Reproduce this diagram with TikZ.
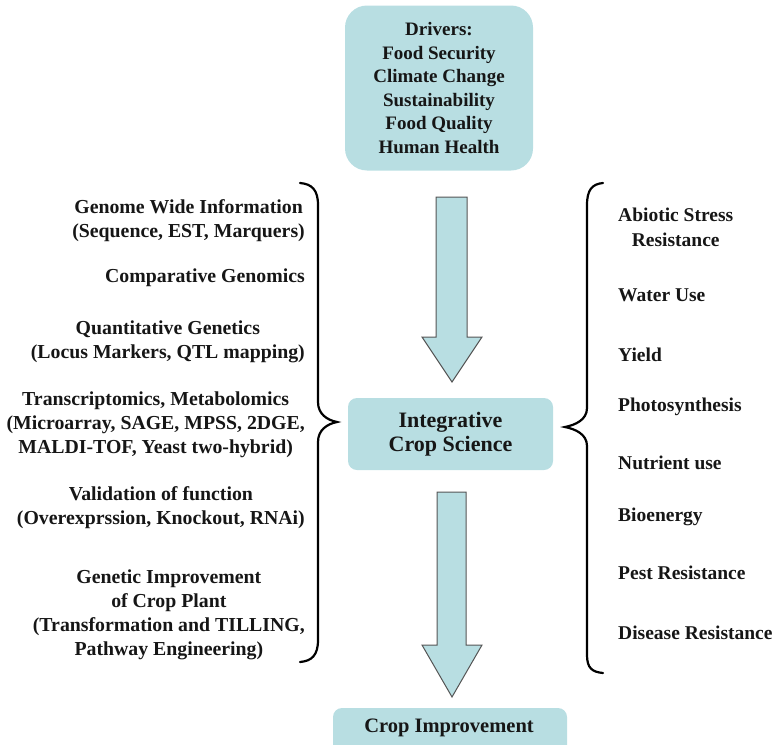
\documentclass[tikz,border=0pt]{standalone}
\usepackage{fontspec}
\setmainfont{Liberation Serif}
\definecolor{boxfill}{RGB}{184,222,226}
\definecolor{txt}{RGB}{22,22,22}
\definecolor{edge}{RGB}{85,85,85}
\begin{document}
\begin{tikzpicture}[x=1pt,y=-1pt,
  every node/.style={font=\bfseries\fontsize{19}{23.5}\selectfont, text=txt, inner sep=0pt, align=center},
  tealbox/.style={fill=boxfill, draw=none},
  blockarrow/.style={fill=boxfill, draw=edge, line width=1pt, line join=miter},
  bracepath/.style={draw=black, line width=2.2pt, line cap=round},
  lefttext/.style={anchor=east, font=\bfseries\fontsize{19.8}{24}\selectfont},
  righttext/.style={anchor=west, font=\bfseries\fontsize{19.5}{24.5}\selectfont}]
\clip (0,0) rectangle (776,744);
\useasboundingbox (0,0) rectangle (776,744);

% boxes
\node[tealbox, rounded corners=22pt, minimum width=188pt, minimum height=165pt] (drivers) at (439,88)
  {Drivers:\\Food Security\\Climate Change\\Sustainability\\Food Quality\\Human Health};
\node[tealbox, rounded corners=9pt, minimum width=205pt, minimum height=72pt,
  font=\bfseries\fontsize{22}{24.5}\selectfont] (ics) at (450.5,434) {Integrative\\Crop Science};
\fill[boxfill, rounded corners=9pt] (333,708) rectangle (567,770);
\node[font=\bfseries\fontsize{20.5}{24}\selectfont] (crop) at (449,728) {Crop Improvement};

% block arrows
\draw[blockarrow] (436,197) -- (467,197) -- (467,337) -- (482,337) -- (452,382) -- (422,337) -- (436,337) -- cycle;
\draw[blockarrow] (437,492) -- (466,492) -- (466,645) -- (482,645) -- (452,697) -- (422,645) -- (437,645) -- cycle;

% braces
\coordinate (lcusp) at (337,422);
\coordinate (rcusp) at (565,427);
\draw[bracepath] (300,183) .. controls (312,184) and (318,190) .. (318,205) -- (318,402)
  .. controls (318,414) and (327,420) .. (lcusp) .. controls (327,424) and (318,430) .. (318,442)
  -- (318,640) .. controls (318,655) and (312,661) .. (300,662);
\draw[bracepath] (603,183) .. controls (592,184) and (587,190) .. (587,205) -- (587,408)
  .. controls (587,420) and (575,425) .. (rcusp) .. controls (575,429) and (587,434) .. (587,446)
  -- (587,655) .. controls (587,668) and (592,672) .. (603,673);

% left items
\node[lefttext] (l1) at (305,221) {Genome Wide Information\\(Sequence, EST, Marquers)};
\node[lefttext] (l2) at (305,278) {Comparative Genomics};
\node[lefttext] (l3) at (305,341.5) {Quantitative Genetics\\(Locus Markers, QTL mapping)};
\node[lefttext] (l4) at (305,424.3) {Transcriptomics, Metabolomics\\(Microarray, SAGE, MPSS, 2DGE,\\MALDI-TOF, Yeast two-hybrid)};
\node[lefttext] (l5) at (305,507.5) {Validation of function\\(Overexprssion, Knockout, RNAi)};
\node[lefttext] (l6) at (305,615.3) {Genetic Improvement\\of Crop Plant\\(Transformation and TILLING,\\Pathway Engineering)};

% right items
\node[righttext] (r1) at (618,227.5) {Abiotic Stress\\Resistance};
\node[righttext] (r2) at (618,295) {Water Use};
\node[righttext] (r3) at (618,355) {Yield};
\node[righttext] (r4) at (618,407) {Photosynthesis};
\node[righttext] (r5) at (618,463) {Nutrient use};
\node[righttext] (r6) at (618,517) {Bioenergy};
\node[righttext] (r7) at (618,573) {Pest Resistance};
\node[righttext] (r8) at (618,633) {Disease Resistance};
\end{tikzpicture}
\end{document}
